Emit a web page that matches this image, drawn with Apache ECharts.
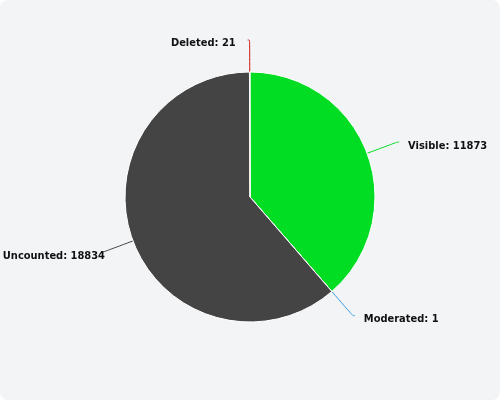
<!DOCTYPE html>
<html><head><meta charset="utf-8">
<script src="https://cdn.jsdelivr.net/npm/echarts@6/dist/echarts.min.js"></script>
<style>html,body{margin:0;padding:0;background:#fff}#c{width:500px;height:400px;background:#f3f4f6;border-radius:8px}</style>
</head><body><div id="c"></div>
<script>
const categories = ['Visible', 'Moderated', 'Uncounted', 'Deleted'];
const values = [11873, 1, 18834, 21];
const colors = ['#00dd22', '#3399dd', '#444444', '#cc1111'];
const chart = echarts.init(document.getElementById('c'));
chart.setOption({
  animation: false,
  series: [{
    type: 'pie',
    center: [250, 197],
    radius: 125,
    startAngle: 90,
    clockwise: true,
    avoidLabelOverlap: false,
    data: categories.map((n, i) => ({
      name: n, value: values[i], itemStyle: { color: colors[i] },
      label: n === 'Uncounted' ? { distanceToLabelLine: -4 } : (n === 'Deleted' ? { distanceToLabelLine: 12 } : undefined)
    })),
    itemStyle: { borderColor: '#ffffff', borderWidth: 1 },
    label: {
      formatter: '{t|{b}: {c}}',
      color: '#111',
      fontFamily: 'DejaVu Sans Condensed',
      fontWeight: 'bold',
      fontSize: 11,
      overflow: 'none',
      distanceToLabelLine: 9,
      rich: { t: { fontFamily: 'DejaVu Sans Condensed', fontWeight: 'bold', fontSize: 11, color: '#111', padding: [7, 0, 0, 0] } }
    },
    labelLine: { length: 32, length2: 2, smooth: true, lineStyle: { width: 1 } }
  }]
});
</script></body></html>
